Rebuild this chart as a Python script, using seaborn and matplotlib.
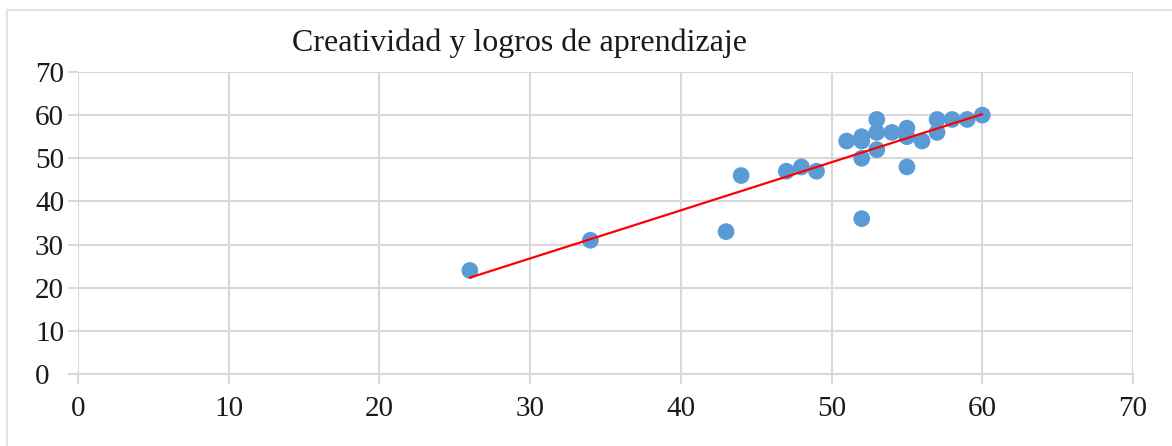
import matplotlib
matplotlib.use("Agg")
import matplotlib.pyplot as plt
import seaborn as sns
import numpy as np
import pandas as pd
from matplotlib.lines import Line2D

creatividad = [26, 34, 43, 44, 47, 48, 49, 51, 52, 52, 52, 52, 53, 53, 53, 54, 55, 55, 55, 56, 57, 57, 58, 59, 60]
logros      = [24, 31, 33, 46, 47, 48, 47, 54, 55, 54, 50, 36, 59, 56, 52, 56, 57, 55, 48, 54, 59, 56, 59, 59, 60]
x_ticks = [0, 10, 20, 30, 40, 50, 60, 70]
y_ticks = [0, 10, 20, 30, 40, 50, 60, 70]
title = "Creatividad y logros de aprendizaje"

df = pd.DataFrame({"Creatividad": creatividad, "Logros": logros})

sns.set_theme(style="white")
plt.rcParams['font.family'] = ['Liberation Serif', 'DejaVu Serif']

fig = plt.figure(figsize=(11.72, 4.46), dpi=100)
ax = fig.add_axes([78/1172, 1-374/446, (1133-78)/1172, (374-72)/446])

grid_c = "#d9d9d9"
ax.set_xlim(0, 70)
ax.set_ylim(0, 70)
ax.set_xticks(x_ticks)
ax.set_yticks(y_ticks)
ax.grid(True, color=grid_c, linewidth=1.5)
ax.set_axisbelow(True)
for s in ["top", "right", "left"]:
    ax.spines[s].set_visible(False)
ax.spines["bottom"].set_color(grid_c)
ax.spines["bottom"].set_linewidth(1.5)
ax.tick_params(axis="both", which="both", length=7.2, width=1.5, color=grid_c,
               labelsize=21, labelcolor="#1a1a1a", bottom=True, left=True)
ax.tick_params(axis="x", pad=9)
ax.tick_params(axis="y", pad=23.8)
for lab in ax.get_yticklabels():
    lab.set_horizontalalignment("left")

sns.regplot(data=df, x="Creatividad", y="Logros", ax=ax, ci=None, truncate=True,
            scatter_kws=dict(s=145, color="#5b9bd5", alpha=1, edgecolor="none", zorder=3),
            line_kws=dict(color="#ff0000", linewidth=1.6, zorder=4))
ax.set_xlabel("")
ax.set_ylabel("")
for lab in ax.get_yticklabels():
    lab.set_horizontalalignment("left")

fig.text(520/1172, 1-43/446, title, ha="center", va="center", fontsize=23, color="#1a1a1a")

# outer border
fig.add_artist(Line2D([7/1172, 1], [1-10/446, 1-10/446], color="#e3e3e3", linewidth=1.5, transform=fig.transFigure))
fig.add_artist(Line2D([7/1172, 7/1172], [0, 1-10/446], color="#e3e3e3", linewidth=1.5, transform=fig.transFigure))

fig.savefig("out.png", dpi=100, facecolor="white")
